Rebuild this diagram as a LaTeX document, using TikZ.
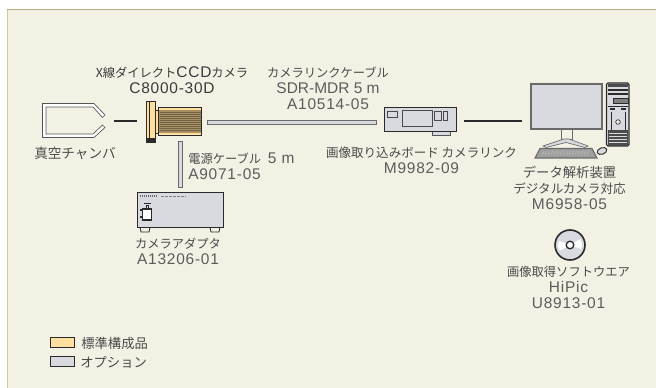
\documentclass[tikz,border=0pt]{standalone}
\usepackage{fontspec}
\setmainfont{Noto Sans CJK JP}
\newfontfamily\latfam[LetterSpace=5]{Liberation Sans}
\newfontfamily\latplain{Liberation Sans}
\definecolor{latcol}{HTML}{5C5C5C}
\newcommand\lat[1]{{\fontsize{11.6}{12}\selectfont\latfam\color{latcol}#1}}
\newcommand\latn[1]{{\fontsize{11.6}{12}\selectfont\latplain\color{latcol}#1}}
\newcommand\latd[1]{{\fontsize{11.6}{12}\selectfont\latfam #1}}
\newcommand\sz[1]{\fontsize{#1}{12}\selectfont}
\definecolor{panel}{HTML}{F3F0E4}
\definecolor{paneltop}{HTML}{B5AE7A}
\definecolor{panelleft}{HTML}{CFC99E}
\definecolor{txt}{HTML}{4A4A4A}
\definecolor{txtdark}{HTML}{3A3A3A}
\definecolor{gold}{HTML}{FFDF9E}
\definecolor{optgray}{HTML}{D9DADF}
\definecolor{outl}{HTML}{2A2A2A}
\definecolor{bronze}{HTML}{A58F63}
\tikzset{
  lab/.style={font=\fontsize{9.2}{12}\selectfont,text=txt,align=center,inner sep=0pt},
  blackline/.style={line width=1.5pt,draw=outl},
  optcable/.style={fill=optgray,draw=outl!70,line width=0.6pt},
  optbox/.style={fill=optgray,draw=outl,line width=0.7pt},
  goldbox/.style={fill=gold,draw=outl,line width=0.6pt},
  inset/.style={draw=outl!85,line width=0.7pt},
}
\begin{document}
\begin{tikzpicture}[x=0.75pt,y=-0.75pt]
\useasboundingbox (0,0) rectangle (656,388);
\fill[white] (0,0) rectangle (656,388);
\fill[panel] (7,9) rectangle (656,388);
\draw[panelleft,line width=1pt] (7.5,9) -- (7.5,388);
\draw[paneltop,line width=1pt] (7,9.5) -- (656,9.5);

% chamber
\draw[draw=outl!80,fill=white,line width=0.5pt]
 (42.5,103.5) -- (94,103.5) -- (105,115) -- (102.5,117.5) -- (93,107) -- (46,107) -- (46,134) -- (93,134) -- (102.5,125) -- (105,127.5) -- (94,137.5) -- (42.5,137.5) -- cycle;
\coordinate (chamberR) at (114,121);
\coordinate (camL) at (137,121);
\draw[blackline] (chamberR) -- (camL);

% camera
\draw[goldbox] (146.5,101) rectangle (155,142);
\draw[goldbox] (155,110) rectangle (158.5,133);
\draw[draw=outl,fill=bronze,line width=0.6pt] (158.5,107.5) rectangle (201,135.5);
\fill[gold] (159,108) rectangle (200.6,110.5);
\fill[gold] (159,133) rectangle (200.6,135.1);
\foreach \yy in {112,114,...,131} \draw[bronze!70!black,line width=0.3pt] (159.5,\yy) -- (200.5,\yy);
\draw[outl,line width=0.5pt] (149.5,101) -- (149.5,142);
\fill[outl] (146.5,138) rectangle (155,142);

% cables
\draw[optcable] (207,120) rectangle (376,124);
\draw[optcable] (178,141) rectangle (182,187);

% adapter
\draw[draw=outl,fill=panel,line width=0.6pt] (140,227) -- (141,232) -- (149,232) -- (150,227);
\draw[draw=outl,fill=panel,line width=0.6pt] (210,227) -- (211,232) -- (219,232) -- (220,227);
\draw[optbox] (137.5,192.5) rectangle (223,227);
\draw[outl!70,line width=0.8pt,dash pattern=on 1pt off 0.5pt] (140,196) -- (157,196);
\draw[outl!60,line width=0.5pt,dash pattern=on 2pt off 1pt] (161,196) -- (186,196);
\draw[fill=white,draw=outl,line width=0.8pt] (142.5,209) rectangle (151.5,220);
\draw[outl,line width=0.5pt] (146,209) -- (146,205) -- (148.5,205) -- (148.5,209);
\draw[outl,line width=0.5pt] (143.5,203) -- (150.5,203);
\fill[outl] (140,216.5) rectangle (142,218.5);
\fill[outl] (140,209.5) rectangle (141.5,211);

% grabber
\draw[draw=outl!80,fill=optgray,line width=0.5pt] (432,131) rectangle (450,135);
\draw[optbox] (384,107.5) rectangle (456,131);
\draw[inset] (387,111) rectangle (397,117);
\draw[inset] (402,110.5) rectangle (432,126);
\draw[inset] (434.5,111) rectangle (441,120);
\draw[inset] (443,111) rectangle (447.5,120);
\coordinate (boardR) at (464,121);
\coordinate (pcL) at (522,121);
\draw[blackline] (boardR) -- (pcL);

% monitor
\draw[draw=outl!70,line width=1.1pt,fill=optgray] (531,84) rectangle (602,129);
\draw[outl!70,fill=panel,line width=0.6pt] (561,129) rectangle (572,139);
\draw[outl!70,fill=optgray,line width=0.5pt] (543,146) -- (564,139) -- (569,139) -- (588,146) -- (585,147.5) -- (566,142.5) -- (546,147.5) -- cycle;
% tower
\draw[draw=outl,fill=optgray,line width=0.8pt,rounded corners=1pt] (606.5,83) rectangle (629,146);
\fill[outl!85] (607.5,84) rectangle (628,87);
\draw[outl,line width=1pt] (608,90) -- (628,90);
\draw[outl,line width=1pt] (608,94) -- (628,94);
\draw[outl,fill=outl!60,line width=0.5pt] (613,98) rectangle (628,103);
\draw[outl,line width=0.7pt] (608,106) -- (628,106);
\draw[outl,line width=1pt] (610,109) -- (615,109);
\draw[outl,line width=1pt] (621,109) -- (626,109);
\draw[outl,line width=0.5pt] (611,112) -- (611,130);
\draw[outl,line width=0.5pt] (625,112) -- (625,130);
\draw[outl,fill=panel,line width=0.5pt] (618,122) circle (2.3);
\fill[outl!85] (607.5,130) rectangle (628,146);
\foreach \yy in {133,136,139,142} \draw[optgray,line width=0.5pt] (609,\yy) -- (627,\yy);
% keyboard
\draw[outl!70,fill=outl!45,line width=0.8pt] (535,158) -- (540,148.5) -- (592,148.5) -- (597,158) -- cycle;
\foreach \xx in {544,547,...,590} \draw[white!70!outl,line width=0.4pt] (\xx,151) -- (\xx-2,155);
\draw[outl,fill=optgray,line width=0.7pt,rotate around={20:(602,151)}] (602,151) ellipse (5 and 3.2);

% CD
\draw[draw=outl,fill=optgray,line width=1.2pt] (570,245) circle (15);
\fill[white] (570,245) -- ++(-30:12) arc (-30:20:12) -- cycle;
\fill[white] (570,245) -- ++(150:12) arc (150:200:12) -- cycle;
\draw[draw=outl,fill=white,line width=1pt] (570,245) circle (3.8);

% labels
\node[lab,text=txtdark] (lcam) at (172,80) {X線ダイレクト\latd{CCD}カメラ\\\latd{C8000-30D}};
\node[lab,font=\sz{10.2}] (lcham) at (75,153) {真空チャンバ};
\node[lab] (lcable) at (328,88) {カメラリンクケーブル\\\latn{SDR-MDR 5 m}\\\lat{A10514-05}};
\node[lab,align=left,anchor=west] (lpow) at (188,166) {電源ケーブル\hspace{3pt} \lat{5 m}\\\lat{A9071-05}};
\node[lab] (lada) at (178,251) {カメラアダプタ\\\lat{A13206-01}};
\node[lab,font=\sz{9.4}] (lboard) at (421.5,160) {画像取り込みボード カメラリンク\\\lat{M9982-09}};
\node[lab,font=\sz{9.4}] (lpc) at (569.5,188) {\sz{10}データ解析装置\\デジタルカメラ対応\\\lat{M6958-05}};
\node[lab] (lsoft) at (568.5,287) {画像取得ソフトウエア\\\lat{HiPic}\\\lat{U8913-01}};
\draw[goldbox,line width=0.8pt] (50.5,337.5) rectangle (74.5,347.5);
\draw[fill=optgray,draw=outl,line width=0.8pt] (50.5,356.5) rectangle (74.5,366.5);
\node[lab,anchor=west,font=\sz{10}] (lstd) at (81,343) {標準構成品};
\node[lab,anchor=west,font=\sz{10}] (lopt) at (80,362) {オプション};
\end{tikzpicture}
\end{document}
